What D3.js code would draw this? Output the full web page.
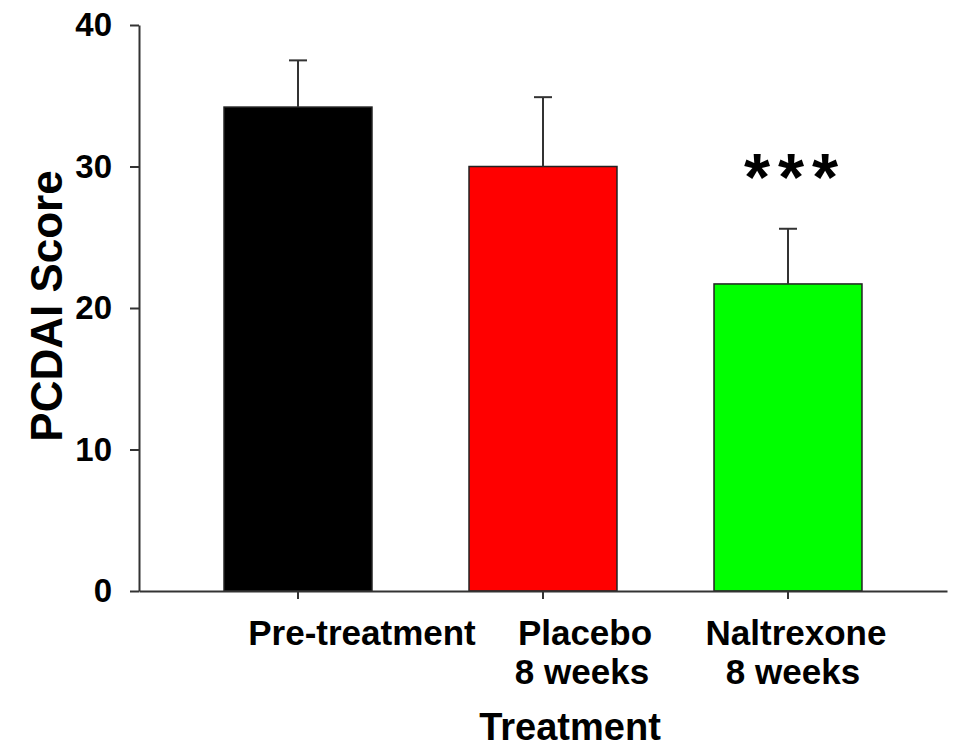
<!DOCTYPE html>
<html>
<head>
<meta charset="utf-8">
<script src="https://cdn.jsdelivr.net/npm/d3@7"></script>
<style>
  body { margin: 0; background: #fff; }
  text { font-family: "Liberation Sans", Arial, sans-serif; font-weight: bold; }
</style>
</head>
<body>
<div id="canvas"></div>
<script>
// Data
const categories = ["Pre-treatment", "Placebo", "Naltrexone"];
const labelLines = [["Pre-treatment"], ["Placebo", "8 weeks"], ["Naltrexone", "8 weeks"]];
const means = [34.2, 30.0, 21.7];
const errTops = [37.5, 34.9, 25.6];
const barColors = ["#000000", "#ff0000", "#00ff00"];
const yTicks = [0, 10, 20, 30, 40];
const signif = ["", "", "***"];

// Layout
const w = 953;
const h = 749;
const plotLeft = 139, plotRight = 947, plotTop = 25, plotBottom = 591;
const labelShift = [64, 42, 8]; // labels sit right of the tick in the original

const xScale = d3.scaleBand().domain(categories).range([plotLeft, plotRight])
  .paddingInner(0.396).paddingOuter(0.347);
const yScale = d3.scaleLinear().domain([0, 40]).range([plotBottom, plotTop]);

const svg = d3.select("#canvas").append("svg")
  .attr("width", w)
  .attr("height", h)
  .style("background-color", "white");

// Bars
svg.selectAll(".bar")
  .data(categories)
  .join("rect")
  .attr("class", "bar")
  .attr("x", d => xScale(d))
  .attr("y", (d, i) => yScale(means[i]))
  .attr("width", xScale.bandwidth())
  .attr("height", (d, i) => yScale(0) - yScale(means[i]))
  .attr("fill", (d, i) => barColors[i])
  .attr("stroke", "#222")
  .attr("stroke-width", 1.5);

// Error bars (upper only)
categories.forEach((c, i) => {
  const cx = xScale(c) + xScale.bandwidth() / 2;
  svg.append("line")
    .attr("x1", cx).attr("x2", cx)
    .attr("y1", yScale(means[i])).attr("y2", yScale(errTops[i]))
    .attr("stroke", "#333").attr("stroke-width", 2);
  svg.append("line")
    .attr("x1", cx - 9).attr("x2", cx + 9)
    .attr("y1", yScale(errTops[i])).attr("y2", yScale(errTops[i]))
    .attr("stroke", "#333").attr("stroke-width", 2);
  if (signif[i]) {
    svg.append("text")
      .attr("x", cx + 7)
      .attr("y", yScale(errTops[i]) - 29)
      .attr("text-anchor", "middle")
      .style("font-size", "67px")
      .style("letter-spacing", "8px")
      .attr("fill", "#000")
      .text(signif[i]);
  }
});

// Y axis
const yAxisGroup = svg.append("g")
  .attr("transform", `translate(${plotLeft},0)`)
  .call(d3.axisLeft(yScale).tickValues(yTicks).tickSize(9).tickSizeOuter(0).tickPadding(18));
yAxisGroup.selectAll("path, line").attr("stroke", "#333").attr("stroke-width", 2);
yAxisGroup.selectAll(".tick text")
  .attr("fill", "#000")
  .style("font-family", "'Liberation Sans', Arial, sans-serif")
  .style("font-weight", "bold")
  .style("font-size", "33px");

// X axis
const xAxisGroup = svg.append("g")
  .attr("transform", `translate(0,${plotBottom})`)
  .call(d3.axisBottom(xScale).tickSize(8).tickSizeOuter(0).tickFormat(""));
xAxisGroup.selectAll("path, line").attr("stroke", "#333").attr("stroke-width", 2);

// X labels
categories.forEach((c, i) => {
  const cx = xScale(c) + xScale.bandwidth() / 2 + labelShift[i];
  const t = svg.append("text")
    .attr("text-anchor", "middle")
    .attr("fill", "#000")
    .style("font-size", "35px");
  labelLines[i].forEach((line, j) => {
    t.append("tspan")
      .attr("x", j === 0 ? cx : cx - 3)
      .attr("y", 645 + j * 39)
      .text(line);
  });
});

// Axis titles
svg.append("text")
  .attr("x", 570)
  .attr("y", 740)
  .attr("text-anchor", "middle")
  .attr("fill", "#000")
  .style("font-size", "38px")
  .text("Treatment");

svg.append("text")
  .attr("transform", "translate(62,306) rotate(-90)")
  .attr("text-anchor", "middle")
  .attr("fill", "#000")
  .style("font-size", "44px")
  .text("PCDAI Score");
</script>
</body>
</html>
